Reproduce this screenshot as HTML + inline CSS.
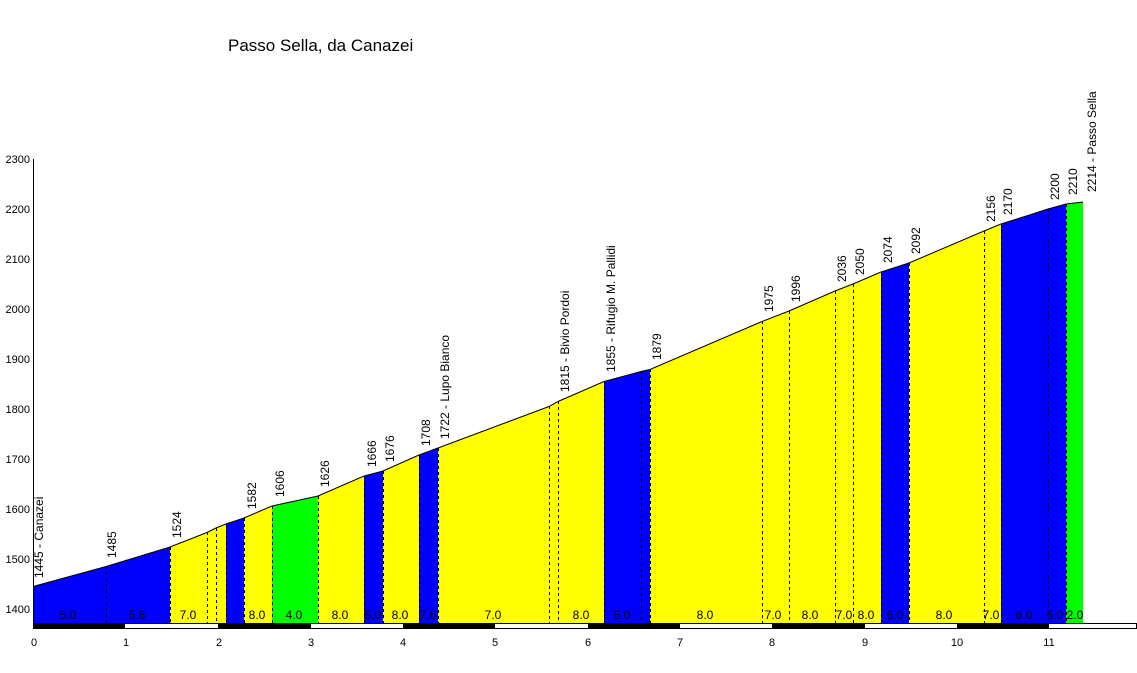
<!DOCTYPE html><html><head><style>body{margin:0;background:#fff}svg{display:block;font-family:"Liberation Sans",Arial,sans-serif}</style></head><body>
<svg width="1137" height="673" xmlns="http://www.w3.org/2000/svg">
<text x="228" y="51" font-size="17">Passo Sella, da Canazei</text>
<g stroke="none">
<polygon fill="#0000ff" points="33,623 33,586.5 106,566.5 170,547 170,623"/>
<polygon fill="#ffff00" points="170,623 170,547 207,532.5 216,528 226,524 226,623"/>
<polygon fill="#0000ff" points="226,623 226,524 244,518 244,623"/>
<polygon fill="#ffff00" points="244,623 244,518 272,506 272,623"/>
<polygon fill="#00ff00" points="272,623 272,506 318,496 318,623"/>
<polygon fill="#ffff00" points="318,623 318,496 364,476 364,623"/>
<polygon fill="#0000ff" points="364,623 364,476 383,471 383,623"/>
<polygon fill="#ffff00" points="383,623 383,471 419,455 419,623"/>
<polygon fill="#0000ff" points="419,623 419,455 438,448 438,623"/>
<polygon fill="#ffff00" points="438,623 438,448 549,406.5 558,401.5 604,381.5 604,623"/>
<polygon fill="#0000ff" points="604,623 604,381.5 641,371.5 650,369.5 650,623"/>
<polygon fill="#ffff00" points="650,623 650,369.5 762,321.5 789,311 835,291 853,284 881,272 881,623"/>
<polygon fill="#0000ff" points="881,623 881,272 909,263 909,623"/>
<polygon fill="#ffff00" points="909,623 909,263 984,231 1001,224 1001,623"/>
<polygon fill="#0000ff" points="1001,623 1001,224 1048,209 1066,204 1066,623"/>
<polygon fill="#00ff00" points="1066,623 1066,204 1083,202 1083,623"/>
</g>
<polyline fill="none" stroke="#000" stroke-width="1" points="33,586.5 106,566.5 170,547 207,532.5 216,528 226,524 244,518 272,506 318,496 364,476 383,471 419,455 438,448 549,406.5 558,401.5 604,381.5 641,371.5 650,369.5 762,321.5 789,311 835,291 853,284 881,272 909,263 984,231 1001,224 1048,209 1066,204 1083,202"/>
<g stroke="#000" stroke-width="1" stroke-dasharray="3,3">
<line x1="170.5" y1="547" x2="170.5" y2="623"/><line x1="226.5" y1="524" x2="226.5" y2="623"/><line x1="244.5" y1="518" x2="244.5" y2="623"/><line x1="272.5" y1="506" x2="272.5" y2="623"/><line x1="318.5" y1="496" x2="318.5" y2="623"/><line x1="364.5" y1="476" x2="364.5" y2="623"/><line x1="383.5" y1="471" x2="383.5" y2="623"/><line x1="419.5" y1="455" x2="419.5" y2="623"/><line x1="438.5" y1="448" x2="438.5" y2="623"/><line x1="604.5" y1="381" x2="604.5" y2="623"/><line x1="650.5" y1="369" x2="650.5" y2="623"/><line x1="881.5" y1="272" x2="881.5" y2="623"/><line x1="909.5" y1="263" x2="909.5" y2="623"/><line x1="1001.5" y1="224" x2="1001.5" y2="623"/><line x1="1066.5" y1="204" x2="1066.5" y2="623"/>
<line x1="106.5" y1="566" x2="106.5" y2="623"/><line x1="207.5" y1="532" x2="207.5" y2="623"/><line x1="216.5" y1="528" x2="216.5" y2="623"/><line x1="549.5" y1="406" x2="549.5" y2="623"/><line x1="558.5" y1="401" x2="558.5" y2="623"/><line x1="641.5" y1="371" x2="641.5" y2="623"/><line x1="762.5" y1="321" x2="762.5" y2="623"/><line x1="789.5" y1="311" x2="789.5" y2="623"/><line x1="835.5" y1="291" x2="835.5" y2="623"/><line x1="853.5" y1="284" x2="853.5" y2="623"/><line x1="984.5" y1="231" x2="984.5" y2="623"/><line x1="1048.5" y1="209" x2="1048.5" y2="623"/>
</g>
<g font-size="12" text-anchor="middle">
<text x="68" y="619">5.0</text><text x="137" y="619">5.6</text><text x="188" y="619">7.0</text><text x="257" y="619">8.0</text><text x="294" y="619">4.0</text><text x="340" y="619">8.0</text><text x="373" y="619">5.0</text><text x="400" y="619">8.0</text><text x="428" y="619">7.6</text><text x="493" y="619">7.0</text><text x="581" y="619">8.0</text><text x="622" y="619">5.0</text><text x="705" y="619">8.0</text><text x="773" y="619">7.0</text><text x="810" y="619">8.0</text><text x="844" y="619">7.0</text><text x="866" y="619">8.0</text><text x="895" y="619">6.0</text><text x="944" y="619">8.0</text><text x="991" y="619">7.0</text><text x="1024" y="619">6.0</text><text x="1055" y="619">5.0</text><text x="1075" y="619">2.0</text>
</g>
<g font-size="12">
<text transform="translate(43,578) rotate(-90)">1445 - Canazei</text>
<text transform="translate(116,558) rotate(-90)">1485</text>
<text transform="translate(181,538) rotate(-90)">1524</text>
<text transform="translate(256,509) rotate(-90)">1582</text>
<text transform="translate(284,497) rotate(-90)">1606</text>
<text transform="translate(329,487) rotate(-90)">1626</text>
<text transform="translate(376,467) rotate(-90)">1666</text>
<text transform="translate(394,462) rotate(-90)">1676</text>
<text transform="translate(430,446) rotate(-90)">1708</text>
<text transform="translate(449,439) rotate(-90)">1722 - Lupo Bianco</text>
<text transform="translate(569,392) rotate(-90)">1815 - Bivio Pordoi</text>
<text transform="translate(615,372) rotate(-90)">1855 - Rifugio M. Pallidi</text>
<text transform="translate(661,360) rotate(-90)">1879</text>
<text transform="translate(773,312) rotate(-90)">1975</text>
<text transform="translate(800,302) rotate(-90)">1996</text>
<text transform="translate(846,282) rotate(-90)">2036</text>
<text transform="translate(864,275) rotate(-90)">2050</text>
<text transform="translate(892,263) rotate(-90)">2074</text>
<text transform="translate(920,254) rotate(-90)">2092</text>
<text transform="translate(995,222) rotate(-90)">2156</text>
<text transform="translate(1012,215) rotate(-90)">2170</text>
<text transform="translate(1059,200) rotate(-90)">2200</text>
<text transform="translate(1077,195) rotate(-90)">2210</text>
<text transform="translate(1096,192) rotate(-90)">2214 - Passo Sella</text>
</g>
<line x1="33.5" y1="159" x2="33.5" y2="628" stroke="#000"/>
<g font-size="11" text-anchor="end">
<text x="30" y="163">2300</text><text x="30" y="213">2200</text><text x="30" y="263">2100</text><text x="30" y="313">2000</text><text x="30" y="363">1900</text><text x="30" y="413">1800</text><text x="30" y="463">1700</text><text x="30" y="513">1600</text><text x="30" y="563">1500</text><text x="30" y="613">1400</text>
</g>
<rect x="33.5" y="623.5" width="1103" height="5" fill="#fff" stroke="#000"/>
<g fill="#000"><rect x="33" y="623" width="92" height="5"/><rect x="218" y="623" width="93" height="5"/><rect x="403" y="623" width="92" height="5"/><rect x="588" y="623" width="92" height="5"/><rect x="772" y="623" width="93" height="5"/><rect x="957" y="623" width="92" height="5"/></g>
<g font-size="11" text-anchor="middle">
<text x="34" y="646">0</text><text x="126" y="646">1</text><text x="219" y="646">2</text><text x="311" y="646">3</text><text x="403" y="646">4</text><text x="495" y="646">5</text><text x="588" y="646">6</text><text x="680" y="646">7</text><text x="772" y="646">8</text><text x="865" y="646">9</text><text x="957" y="646">10</text><text x="1049" y="646">11</text>
</g>
</svg></body></html>
